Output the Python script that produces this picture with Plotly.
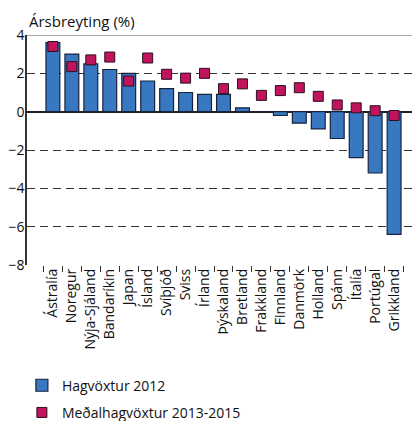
import plotly.graph_objects as go

countries = ['Ástralía', 'Noregur', 'Nýja-Sjáland', 'Bandaríkin', 'Japan', 'Ísland',
             'Svíþjóð', 'Sviss', 'Írland', 'Þýskaland', 'Bretland', 'Frakkland',
             'Finnland', 'Danmörk', 'Holland', 'Spánn', 'Ítalía', 'Portúgal', 'Grikkland']
growth_2012 = [3.6, 3.0, 2.5, 2.2, 2.0, 1.6, 1.2, 1.0, 0.9, 0.9, 0.2, 0.0,
               -0.2, -0.6, -0.9, -1.4, -2.4, -3.2, -6.4]
avg_2013_2015 = [3.4, 2.35, 2.7, 2.85, 1.6, 2.8, 1.95, 1.75, 2.0, 1.2, 1.45, 0.85,
                 1.1, 1.25, 0.8, 0.35, 0.2, 0.05, -0.2]

font_family = 'Open Sans'

fig = go.Figure()

fig.add_trace(go.Bar(
    x=countries,
    y=growth_2012,
    name='Hagvöxtur 2012',
    legendgroup='a',
    marker=dict(color='#3878c0', line=dict(color='#17233d', width=1.2)),
))

fig.add_trace(go.Scatter(
    x=countries,
    y=avg_2013_2015,
    mode='markers',
    name='Meðalhagvöxtur 2013-2015',
    legendgroup='b',
    marker=dict(symbol='square', size=10, color='#c0145c',
                line=dict(color='#2a1020', width=1)),
))

# page body has an 8px margin, so the figure is sized to fit the window
fig.update_layout(
    width=412, height=413,
    margin=dict(l=19, r=0, t=27, b=156, autoexpand=False),
    plot_bgcolor='white',
    paper_bgcolor='white',
    font=dict(family=font_family, size=14, color='#111'),
    bargap=0.27,
    showlegend=True,
    legend=dict(x=-0.013, y=-0.455, xanchor='left', yanchor='top',
                font=dict(size=14), tracegroupgap=6, itemwidth=30),
    xaxis=dict(
        type='category', tickangle=-90, tickson='boundaries',
        ticks='outside', ticklen=6, tickcolor='#333',
        showline=False, showgrid=False, automargin=False,
        tickfont=dict(size=14),
    ),
    yaxis=dict(
        range=[-8, 4], dtick=2, showline=True, linecolor='#333', linewidth=1.5,
        showgrid=True, gridcolor='#333', griddash='8px,5px', gridwidth=1,
        zeroline=True, zerolinecolor='#222', zerolinewidth=1.5,
        ticks='', tickfont=dict(size=14), ticklabelstandoff=-2,
        automargin=False,
    ),
    shapes=[dict(type='line', xref='paper', yref='y', x0=0, x1=1, y0=4, y1=4,
                 line=dict(color='#888', width=1.5))],
    annotations=[dict(text='Ársbreyting (%)', xref='paper', yref='paper',
                      x=0, y=1.009, xanchor='left', yanchor='bottom',
                      showarrow=False, font=dict(size=15))],
)

fig.write_html('out.html')
